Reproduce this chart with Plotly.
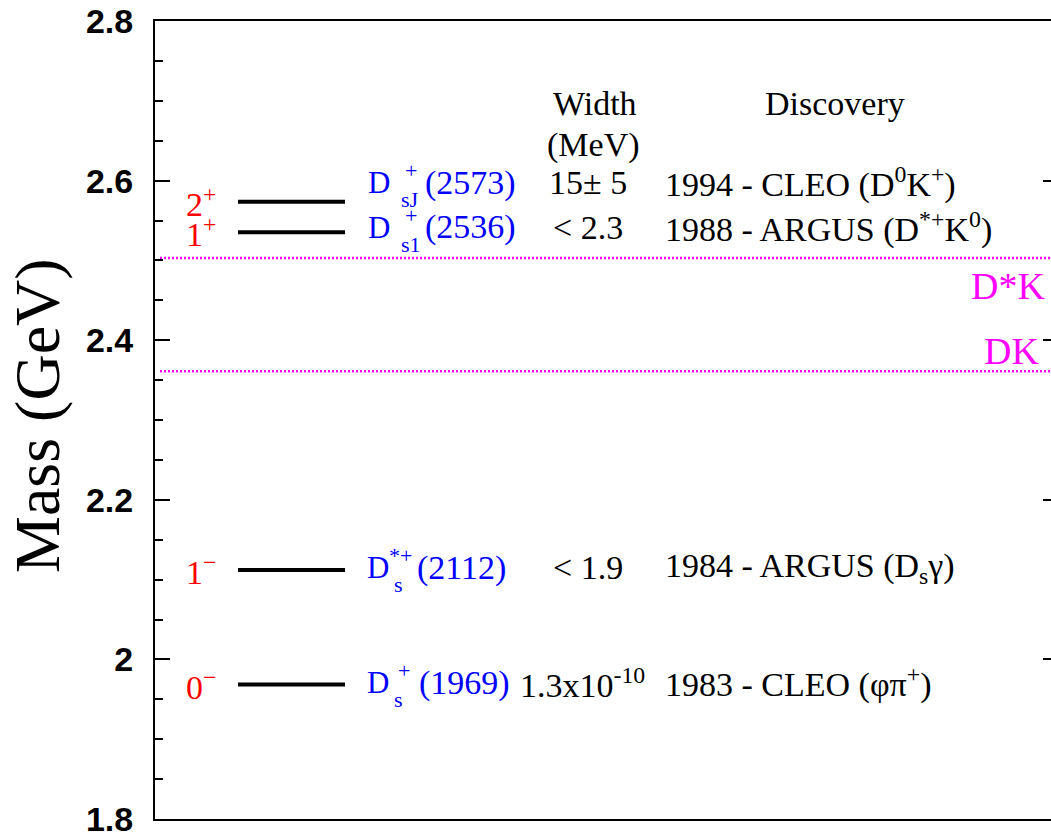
import plotly.graph_objects as go

# ---- D_s meson spectrum -------------------------------------------------
masses = [2.5735, 2.5354, 2.1121, 1.9685]                 # GeV
jp_labels = ["2<sup>+</sup>", "1<sup>+</sup>", "1<sup>−</sup>", "0<sup>−</sup>"]
state_sup = ["+", "+", "*+", "+"]
state_sub = ["sJ", "s1", "s", "s"]
state_mass = ["(2573)", "(2536)", "(2112)", "(1969)"]
widths_mev = ["15± 5", "< 2.3", "< 1.9", "1.3x10<sup>-10</sup>"]
discovery = [
    "1994 - CLEO (D<sup>0</sup>K<sup>+</sup>)",
    "1988 - ARGUS (D<sup>*+</sup>K<sup>0</sup>)",
    "1984 - ARGUS (D<sub>s</sub>γ)",
    "1983 - CLEO (φπ<sup>+</sup>)",
]

# open-charm decay thresholds
thresholds = [2.503, 2.361]
threshold_labels = ["D*K", "DK"]

# axis ticks
tick_vals = [1.8, 2.0, 2.2, 2.4, 2.6, 2.8]
tick_text = ["1.8", "2", "2.2", "2.4", "2.6", "2.8"]
y_range = [1.8, 2.8]

# ---- page geometry (pixels) ---------------------------------------------
W, H = 1051, 839
LEFT, TOP, BOTTOM = 155, 21, 20
PLOT_W = W - LEFT
PLOT_H = H - TOP - BOTTOM

SERIF = "Liberation Serif"
RED, BLUE, MAGENTA = "#ff0000", "#0000ff", "#ff00ff"
ROW_SIZE = 34


def xd(px):
    """page pixel column -> x data units (x axis spans the plot in pixels)"""
    return px - LEFT


def yp(py):
    """page pixel row -> paper y"""
    return (H - BOTTOM - py) / PLOT_H


fig = go.Figure()

# energy levels
for m in masses:
    fig.add_trace(go.Scatter(
        x=[xd(238), xd(345)], y=[m, m], mode="lines",
        line=dict(color="black", width=4), hoverinfo="skip", showlegend=False,
    ))

# thresholds
for t in thresholds:
    fig.add_trace(go.Scatter(
        x=[xd(160), xd(W)], y=[t, t], mode="lines",
        line=dict(color=MAGENTA, width=2.5, dash="2px,2px"),
        hoverinfo="skip", showlegend=False,
    ))

ann = []


def text(x, y, s, size, color="black", xanchor="left", yref="y", yshift=0,
         family=SERIF, **kw):
    ann.append(dict(x=x, y=y, xref="x", yref=yref, text=s, showarrow=False,
                    xanchor=xanchor, yanchor="middle", yshift=yshift,
                    font=dict(family=family, size=size, color=color), **kw))


row_shift = [19, 5, 2, 2]
d_left = [366, 366, 365, 365]
sup_left = [403, 403, 387, 396]
sub_left = [399, 399, 392, 392]
paren_left = [423, 423, 415, 417]

for i, m in enumerate(masses):
    # J^P
    text(xd(218), m, jp_labels[i], 34, RED, xanchor="right")
    s = row_shift[i]
    # state name, with stacked super/subscripts
    text(xd(d_left[i]), m, "D", 31, BLUE, yshift=s)
    text(xd(sup_left[i]), m, state_sup[i], 22, BLUE, yshift=s + 12)
    text(xd(sub_left[i]), m, state_sub[i], 22, BLUE, yshift=s - 17)
    text(xd(paren_left[i]), m, state_mass[i], ROW_SIZE, BLUE, yshift=s)
    # width
    if i < 3:
        text(xd(588), m, widths_mev[i], ROW_SIZE, xanchor="center", yshift=s)
    else:
        text(xd(518), m, widths_mev[i], ROW_SIZE, yshift=s)
    # discovery
    text(xd(663), m, discovery[i], ROW_SIZE, yshift=s)

# column headers
text(xd(595), yp(103), "Width", ROW_SIZE, xanchor="center", yref="paper")
text(xd(593), yp(145), "(MeV)", ROW_SIZE, xanchor="center", yref="paper")
text(xd(835), yp(103), "Discovery", ROW_SIZE, xanchor="center", yref="paper")

# threshold labels
text(xd(1047), thresholds[0], threshold_labels[0], 38, MAGENTA,
     xanchor="right", yshift=-28)
text(xd(1041), thresholds[1], threshold_labels[1], 38, MAGENTA,
     xanchor="right", yshift=20)

# axis title, left of the tick labels
ann.append(dict(x=0, y=yp(416), xref="paper", yref="paper", xshift=37 - LEFT,
                text="Mass (GeV)", showarrow=False, textangle=-90,
                xanchor="center", yanchor="middle",
                font=dict(family=SERIF, size=64, color="black")))

fig.update_layout(
    width=W, height=H,
    margin=dict(l=LEFT, r=0, t=TOP, b=BOTTOM, pad=0),
    paper_bgcolor="white", plot_bgcolor="white",
    showlegend=False,
    annotations=ann,
    xaxis=dict(range=[0, PLOT_W], showgrid=False, zeroline=False,
               showticklabels=False, ticks="", showline=True,
               linecolor="black", linewidth=2, mirror=True),
    yaxis=dict(range=y_range, showgrid=False, zeroline=False,
               showline=True, linecolor="black", linewidth=2,
               tickvals=tick_vals, ticktext=tick_text,
               ticks="inside", ticklen=15, tickwidth=2, tickcolor="black",
               minor=dict(dtick=0.05, tick0=1.8, ticks="inside", ticklen=8,
                          tickwidth=2, tickcolor="black"),
               ticklabelstandoff=13,
               tickfont=dict(family="Liberation Sans", size=34,
                             color="black", weight="bold")),
    yaxis2=dict(range=y_range, overlaying="y", side="right",
                showgrid=False, zeroline=False, showline=False,
                showticklabels=False, tickvals=tick_vals,
                ticks="inside", ticklen=8, tickwidth=2, tickcolor="black"),
)

# empty trace on the right-hand axis so its ticks are drawn
fig.add_trace(go.Scatter(x=[None], y=[None], yaxis="y2", showlegend=False,
                         hoverinfo="skip"))

fig.write_html("out.html")
